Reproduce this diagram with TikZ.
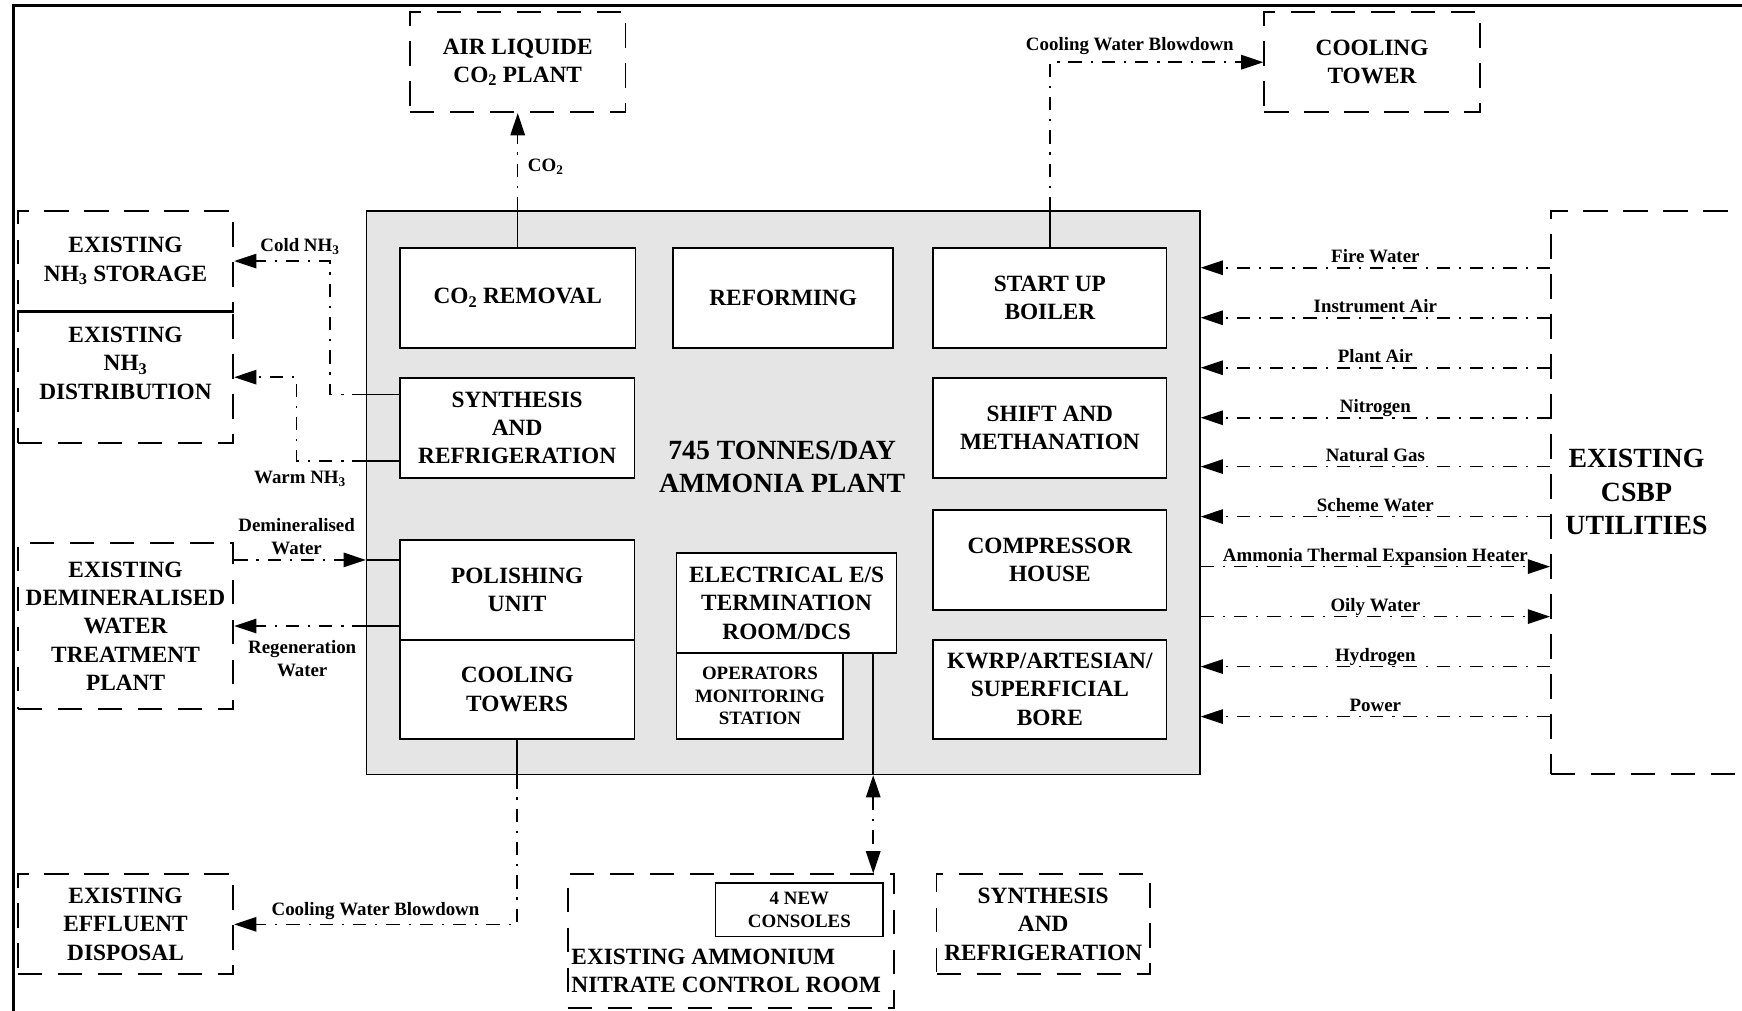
\documentclass[tikz,border=0pt]{standalone}
\usepackage{fontspec}
\setmainfont{Liberation Serif}
\usetikzlibrary{arrows.meta,positioning,calc}

\newcommand{\boxfont}{\fontsize{21}{25.5}\selectfont\bfseries}
\newcommand{\plantfont}{\fontsize{25}{30}\selectfont\bfseries}
\newcommand{\lblfont}{\fontsize{17}{20.5}\selectfont\bfseries}

\tikzset{
  unit/.style={draw, fill=white, line width=1.5pt, inner sep=0pt, align=center, font=\boxfont},
  ext/.style={draw, line width=1.6pt, dash pattern=on 22pt off 14pt, inner sep=0pt, align=center, font=\boxfont},
  flow/.style={line width=1.4pt, dash pattern=on 12pt off 8pt on 2pt off 8pt},
  pipe/.style={line width=1.4pt},
  arr/.style={-{Triangle[length=20pt,width=13pt]}},
  arrs/.style={{Triangle[length=20pt,width=13pt]}-{Triangle[length=20pt,width=13pt]}},
  lbl/.style={font=\lblfont, inner sep=0pt, align=center},
}

\begin{document}
\begin{tikzpicture}[x=1pt,y=-1pt]
    \useasboundingbox (0,0) rectangle (1568,910);
    % frame
    \draw[line width=3pt] (12,1000) -- (12,5) -- (1600,5);

    % ammonia plant
    \node[draw, fill=gray!20, line width=1.5pt, minimum width=750pt, minimum height=507pt] (plant) at (705,443.5) {};
    \node[font=\plantfont, align=center] (title) at (704,420) {745 TONNES/DAY\\AMMONIA PLANT};
    \node[unit, minimum width=212pt, minimum height=90pt] (co2rem) at (466,268) {CO\textsubscript{2} REMOVAL};
    \node[unit, minimum width=198pt, minimum height=90pt] (reform) at (705,268) {REFORMING};
    \node[unit, minimum width=210pt, minimum height=90pt] (boiler) at (945,268) {START UP\\BOILER};
    \node[unit, minimum width=211pt, minimum height=90pt] (synth) at (465.5,385) {SYNTHESIS\\AND\\REFRIGERATION};
    \node[unit, minimum width=210pt, minimum height=90pt] (shift) at (945,385) {SHIFT AND\\METHANATION};
    \node[unit, minimum width=211pt, minimum height=90pt] (polish) at (465.5,531) {POLISHING\\UNIT};
    \node[unit, minimum width=211pt, minimum height=89pt] (ctowers) at (465.5,620.5) {COOLING\\TOWERS};
    \node[unit, minimum width=198pt, minimum height=90pt] (elec) at (708,543) {ELECTRICAL E/S\\TERMINATION\\ROOM/DCS};
    \node[unit, minimum width=150pt, minimum height=77pt, font=\lblfont] (oper) at (684,626.5) {OPERATORS\\MONITORING\\STATION};
    \node[unit, minimum width=210pt, minimum height=90pt] (comp) at (945,504) {COMPRESSOR\\HOUSE};
    \node[unit, minimum width=210pt, minimum height=89pt] (kwrp) at (945,620.5) {KWRP/ARTESIAN/\\SUPERFICIAL\\BORE};

    % existing facilities
    \node[ext, minimum width=194pt, minimum height=90pt] (airliq) at (466,56) {AIR LIQUIDE\\CO\textsubscript{2} PLANT};
    \node[ext, minimum width=194pt, minimum height=90pt] (ctower) at (1235,56) {COOLING\\TOWER};
    \node[ext, minimum width=194pt, minimum height=90pt] (store) at (113,235) {EXISTING\\NH\textsubscript{3} STORAGE};
    \node[ext, minimum width=194pt, minimum height=119pt] (dist) at (113,339.5) {};
    \node[font=\boxfont, align=center] (disttxt) at (113,327) {EXISTING\\NH\textsubscript{3}\\DISTRIBUTION};
    \draw[line width=1.6pt] (store.south west) -- (store.south east);
    \node[ext, minimum width=194pt, minimum height=149pt] (demin) at (113,563.5) {EXISTING\\DEMINERALISED\\WATER\\TREATMENT\\PLANT};
    \node[ext, minimum width=194pt, minimum height=90pt] (effl) at (113,832) {EXISTING\\EFFLUENT\\DISPOSAL};
    \node[ext, minimum width=294pt, minimum height=120pt] (ctrl) at (658,847) {};
    \node[font=\boxfont, align=left, anchor=south west, inner xsep=4pt, inner ysep=14pt] (ctrltxt) at (ctrl.south west) {EXISTING AMMONIUM\\NITRATE CONTROL ROOM};
    \node[unit, minimum width=151pt, minimum height=48pt, font=\lblfont] (cons) at (719.5,819) {4 NEW\\CONSOLES};
    \node[ext, minimum width=192pt, minimum height=90pt] (synth2) at (939,832) {SYNTHESIS\\AND\\REFRIGERATION};
    \node[ext, minimum width=204pt, minimum height=507pt] (util) at (1498,443.5) {};
    \node[font=\plantfont, align=center] (utiltxt) at (1473,443) {EXISTING\\CSBP\\UTILITIES};

    % CO2 and cooling water blowdown (top)
    \draw[pipe] (co2rem.north) -- (co2rem.north |- plant.north);
    \draw[flow,arr] (co2rem.north |- plant.north) -- (airliq.south);
    \node[lbl, anchor=west] (lco2) at (475,150) {CO\textsubscript{2}};
    \draw[pipe] (boiler.north) -- (boiler.north |- plant.north);
    \draw[flow,arr] (boiler.north |- plant.north) |- (ctower.west);
    \node[lbl] (lcwbtop) at (1017,41) {Cooling Water Blowdown};

    % ammonia out
    \coordinate (cold) at (297,355);
    \draw[pipe] (synth.west |- cold) -- (plant.west |- cold);
    \draw[flow,arr] (plant.west |- cold) -- (cold) |- (store.east);
    \node[lbl] (lcold) at (270,222) {Cold NH\textsubscript{3}};
    \coordinate (warm) at (267,415);
    \draw[pipe] (synth.west |- warm) -- (plant.west |- warm);
    \draw[flow,arr] (plant.west |- warm) -- (warm) |- (dist.east);
    \node[lbl] (lwarm) at (270,431) {Warm NH\textsubscript{3}};

    % demineralised water
    \coordinate (dw) at (300,504);
    \draw[flow,arr] (demin.east |- dw) -- (plant.west |- dw);
    \draw[pipe] (plant.west |- dw) -- (polish.west |- dw);
    \node[lbl] (ldw) at (267,483) {Demineralised\\Water};
    \draw[pipe] (polish.west |- demin.east) -- (plant.west |- demin.east);
    \draw[flow,arr] (plant.west |- demin.east) -- (demin.east);
    \node[lbl] (lregen) at (272,593) {Regeneration\\Water};

    % cooling water blowdown (bottom)
    \draw[pipe] (ctowers.south) -- (ctowers.south |- plant.south);
    \draw[flow,arr] (ctowers.south |- plant.south) |- (effl.east);
    \node[lbl] (lcwbbot) at (338,820) {Cooling Water Blowdown};

    % DCS link
    \coordinate (dcs) at (786,600);
    \draw[pipe] (elec.south -| dcs) -- (plant.south -| dcs);
    \draw[flow,arrs] (plant.south -| dcs) -- (ctrl.north -| dcs);

    % utilities
    \foreach \y/\txt in {241/Fire Water, 286/Instrument Air, 331/Plant Air, 376/Nitrogen,
                         420/Natural Gas, 465/Scheme Water, 600/Hydrogen, 645/Power} {
        \coordinate (u) at (1200,\y);
        \draw[flow,arr] (util.west |- u) -- (plant.east |- u)
            node[lbl, midway, anchor=base, yshift=5pt] (lu\y) {\txt};
    }
    \foreach \y/\txt in {510/Ammonia Thermal Expansion Heater, 555/Oily Water} {
        \coordinate (u) at (1200,\y);
        \draw[flow,arr] (plant.east |- u) -- (util.west |- u)
            node[lbl, midway, anchor=base, yshift=5pt] (lu\y) {\txt};
    }
\end{tikzpicture}
\end{document}
